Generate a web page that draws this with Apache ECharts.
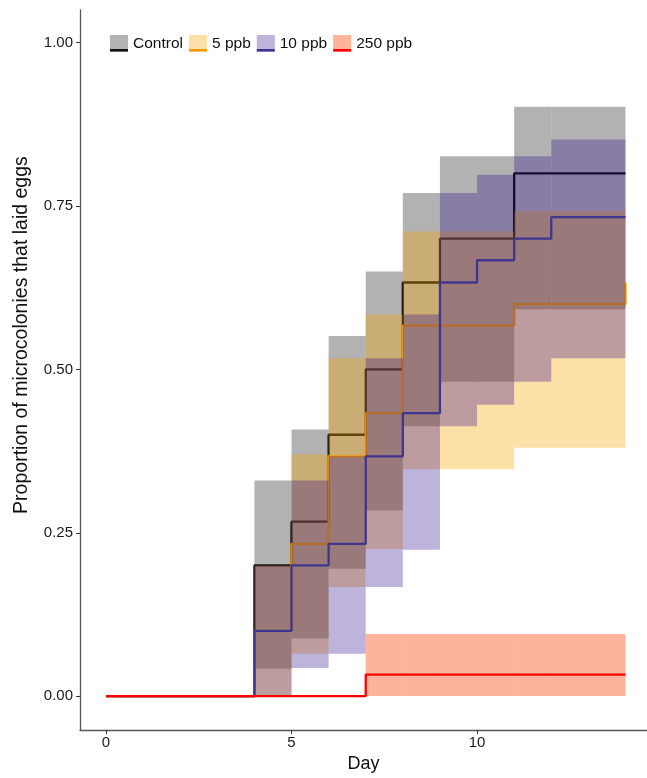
<!DOCTYPE html>
<html>
<head>
<meta charset="utf-8">
<script src="https://cdn.jsdelivr.net/npm/echarts@6/dist/echarts.min.js"></script>
<style>
html, body { margin: 0; padding: 0; background: #fff; }
#main { width: 647px; height: 778px; }
</style>
</head>
<body>
<div id="main"></div>
<script>
// step breakpoints (day) shared by every group
var days = [0, 4, 5, 6, 7, 8, 9, 10, 11, 12, 14];
var groups = ['Control', '5 ppb', '10 ppb', '250 ppb'];
var xTicks = [0, 5, 10];
var yTicks = [0, 0.25, 0.5, 0.75, 1];

// proportion that laid eggs, plus lower / upper confidence limits
var ctrlEst = [0, 0.2, 0.267, 0.4, 0.5, 0.633, 0.7, 0.7, 0.8, 0.8, 0.8];
var ctrlLow = [0, 0.042, 0.088, 0.195, 0.284, 0.413, 0.481, 0.481, 0.592, 0.592, 0.592];
var ctrlUpp = [0, 0.33, 0.408, 0.551, 0.65, 0.77, 0.826, 0.826, 0.902, 0.902, 0.902];

var p5Est = [0, 0.1, 0.233, 0.367, 0.433, 0.567, 0.567, 0.567, 0.6, 0.6, 0.633];
var p5Low = [0, 0, 0.065, 0.167, 0.225, 0.347, 0.347, 0.347, 0.38, 0.38, 0.38];
var p5Upp = [0, 0.2, 0.37, 0.517, 0.584, 0.711, 0.711, 0.711, 0.742, 0.742, 0.742];

var p10Est = [0, 0.1, 0.2, 0.233, 0.367, 0.433, 0.633, 0.667, 0.7, 0.733, 0.733];
var p10Low = [0, 0, 0.043, 0.065, 0.167, 0.224, 0.413, 0.446, 0.481, 0.517, 0.517];
var p10Upp = [0, 0.2, 0.33, 0.367, 0.517, 0.584, 0.77, 0.798, 0.826, 0.852, 0.852];

var p250Est = [0, 0, 0, 0, 0.033, 0.033, 0.033, 0.033, 0.033, 0.033, 0.033];
var p250Low = [0, 0, 0, 0, 0, 0, 0, 0, 0, 0, 0];
var p250Upp = [0, 0, 0, 0, 0.095, 0.095, 0.095, 0.095, 0.095, 0.095, 0.095];

var fills = ['rgba(0,0,0,0.3)', 'rgba(249,161,0,0.34)', 'rgba(40,4,135,0.3)', 'rgba(250,67,3,0.4)'];
var lines = ['#111111', '#f59b00', '#40358f', '#ff0000'];

var FONT = 'Liberation Sans';

// one [dayFrom, dayTo, low, upp] item per step of the confidence band
function bandCells(low, upp) {
    var out = [];
    for (var i = 0; i < days.length - 1; i++) {
        if (upp[i] > low[i]) {
            out.push([days[i], days[i + 1], low[i], upp[i]]);
        }
    }
    return out;
}

// band then line for each group, stacked group after group
function groupSeries(k, est, low, upp) {
    return [{
        name: groups[k],
        type: 'custom',
        silent: true,
        z: 2 + 2 * k,
        encode: { x: [0, 1], y: [2, 3] },
        renderItem: function (params, api) {
            var a = api.coord([api.value(0), api.value(3)]);
            var b = api.coord([api.value(1), api.value(2)]);
            return {
                type: 'rect',
                shape: { x: a[0], y: a[1], width: b[0] - a[0], height: b[1] - a[1] },
                style: { fill: fills[k] }
            };
        },
        data: bandCells(low, upp)
    }, {
        name: groups[k],
        type: 'line',
        z: 3 + 2 * k,
        step: 'end',
        showSymbol: false,
        lineStyle: { color: lines[k], width: 2.3 },
        itemStyle: { color: lines[k] },
        data: days.map(function (d, i) { return [d, est[i]]; })
    }];
}

var series = []
    .concat(groupSeries(0, ctrlEst, ctrlLow, ctrlUpp))
    .concat(groupSeries(1, p5Est, p5Low, p5Upp))
    .concat(groupSeries(2, p10Est, p10Low, p10Upp))
    .concat(groupSeries(3, p250Est, p250Low, p250Upp));

var myChart = echarts.init(document.getElementById('main'), null, { renderer: 'canvas' });

var option = {
    animation: false,
    backgroundColor: '#ffffff',
    textStyle: { fontFamily: FONT },
    grid: {
        left: 80,
        right: 0,
        top: 10,
        bottom: 39
    },
    legend: [{
        left: 110,
        top: 35,
        padding: 0,
        z: 20,
        itemGap: 6,
        itemWidth: 18,
        itemHeight: 17,
        selectedMode: false,
        textStyle: { fontFamily: FONT, fontSize: 15.5, color: '#111' },
        itemStyle: { borderWidth: 0 },
        data: groups.map(function (g, k) {
            return { name: g, icon: 'rect', itemStyle: { color: fills[k], borderWidth: 0 } };
        })
    }, {
        left: 110,
        top: 42.25,
        padding: 0,
        z: 21,
        itemGap: 6,
        itemWidth: 18,
        itemHeight: 2.5,
        selectedMode: false,
        textStyle: { fontFamily: FONT, fontSize: 15.5, color: 'rgba(0,0,0,0)' },
        itemStyle: { borderWidth: 0 },
        data: groups.map(function (g, k) {
            return { name: g, icon: 'rect', itemStyle: { color: lines[k], borderWidth: 0 } };
        })
    }],
    xAxis: {
        type: 'value',
        min: -0.7,
        max: 14.58,
        name: 'Day',
        nameLocation: 'middle',
        nameGap: 18,
        nameTextStyle: { fontFamily: FONT, fontSize: 18, color: '#111' },
        splitLine: { show: false },
        axisLine: { onZero: false, lineStyle: { color: '#555', width: 1.3 } },
        axisTick: { length: 4, lineStyle: { color: '#333' }, customValues: xTicks },
        axisLabel: { fontFamily: FONT, fontSize: 15, color: '#1a1a1a', margin: 5, customValues: xTicks }
    },
    yAxis: {
        type: 'value',
        min: -0.052,
        max: 1.05,
        name: 'Proportion of microcolonies that laid eggs',
        nameLocation: 'middle',
        nameGap: 48,
        nameTextStyle: { fontFamily: FONT, fontSize: 19.5, color: '#111', padding: [0, 0, 0, 70] },
        splitLine: { show: false },
        axisLine: { show: true, onZero: false, lineStyle: { color: '#555', width: 1.3 } },
        axisTick: { show: true, length: 4, lineStyle: { color: '#333' }, customValues: yTicks },
        axisLabel: {
            fontFamily: FONT, fontSize: 15, color: '#1a1a1a', margin: 7,
            customValues: yTicks,
            formatter: function (v) { return v.toFixed(2); }
        }
    },
    series: series
};

myChart.setOption(option);
</script>
</body>
</html>
